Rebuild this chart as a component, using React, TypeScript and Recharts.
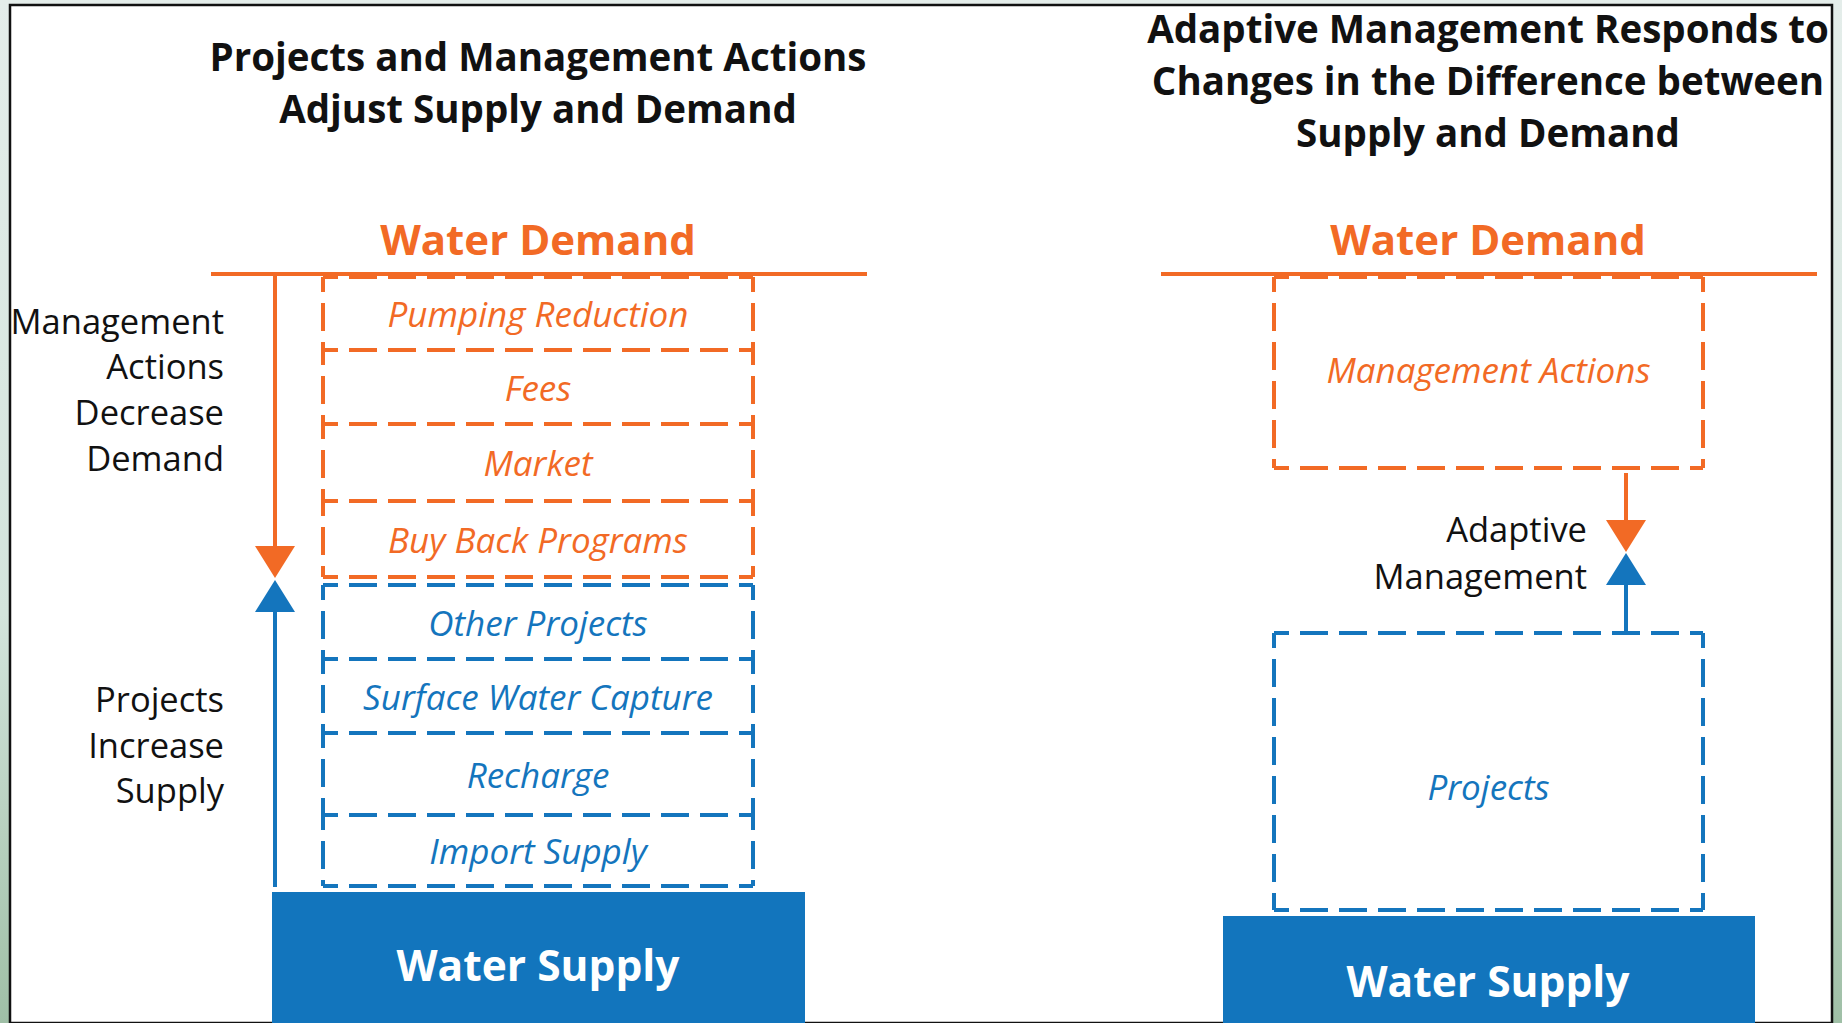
import { ComposedChart, XAxis, YAxis, ReferenceArea, ReferenceLine, Scatter } from "recharts";

const W = 1842;
const H = 1023;

const ORANGE = "#f26a25";
const BLUE = "#1475bd";
const INK = "#111111";
const FONT = "'Open Sans', sans-serif";

// titles
const LEFT_TITLE = ["Projects and Management Actions", "Adjust Supply and Demand"];
const LEFT_TITLE_Y = [56, 108];
const RIGHT_TITLE = ["Adaptive Management Responds to", "Changes in the Difference between", "Supply and Demand"];
const RIGHT_TITLE_Y = [28, 80, 132];
const PANEL_X = [538, 1488];

// demand / supply headings
const DEMAND_LINE_X = [[211, 867], [1161, 1817]];
const DEMAND_LINE_Y = 274;
const HEAD_Y = 238;
const SUPPLY_BLOCK_X = [[272, 805], [1223, 1755]];
const SUPPLY_BLOCK_TOP = [892, 916];
const SUPPLY_TEXT_Y = [964, 980];

// left stack
const DEMAND_ACTIONS = ["Pumping Reduction", "Fees", "Market", "Buy Back Programs"];
const DEMAND_BOUNDS = [277, 350, 424, 501, 577];
const SUPPLY_PROJECTS = ["Other Projects", "Surface Water Capture", "Recharge", "Import Supply"];
const SUPPLY_BOUNDS = [585, 659, 733, 815, 886];
const STACK_X = [323, 753];

// right boxes
const RIGHT_BOX_X = [1274, 1703];
const RIGHT_DEMAND = { label: "Management Actions", bounds: [277, 468], labelY: 369 };
const RIGHT_SUPPLY = { label: "Projects", bounds: [633, 910], labelY: 786 };

// side labels
const DECREASE_LABEL = ["Management", "Actions", "Decrease", "Demand"];
const DECREASE_Y = [320, 365, 411, 457];
const INCREASE_LABEL = ["Projects", "Increase", "Supply"];
const INCREASE_Y = [698, 744, 789];
const ADAPTIVE_LABEL = ["Adaptive", "Management"];
const ADAPTIVE_Y = [528, 575];
const SIDE_X = [224, 1587];

// arrows: [x, tail y, tip y]
const DOWN_ARROWS = [[275, 274, 578], [1626, 473, 552]];
const UP_ARROWS = [[275, 887, 580], [1626, 633, 553]];
const HEAD_LEN = 32;

const mid = (a: number, b: number) => (a + b) / 2;

const textShape =
  (anchor: string, size: number, weight: number | string, style: string, color: string) =>
  (props: any) =>
    (
      <text
        x={props.cx}
        y={props.cy}
        textAnchor={anchor}
        dominantBaseline="central"
        fontFamily={FONT}
        fontSize={size}
        fontWeight={weight}
        fontStyle={style}
        fill={color}
      >
        {props.payload.text}
      </text>
    );

const triangleShape = (color: string, dir: number) => (props: any) => {
  const { cx, cy } = props;
  const half = 20;
  const baseY = cy - dir * HEAD_LEN;
  return <polygon points={`${cx - half},${baseY} ${cx + half},${baseY} ${cx},${cy}`} fill={color} />;
};

// a dashed box drawn edge by edge so that stacked boxes share dash phase
const DashedBox = (x1: number, x2: number, y1: number, y2: number, color: string, key: string) => {
  const common = {
    stroke: color,
    strokeWidth: 4,
    strokeDasharray: "28 11",
    strokeDashoffset: 13,
    ifOverflow: "visible" as const,
  };
  return [
    <ReferenceLine key={`${key}t`} segment={[{ x: x1, y: y1 }, { x: x2, y: y1 }]} {...common} />,
    <ReferenceLine key={`${key}b`} segment={[{ x: x1, y: y2 }, { x: x2, y: y2 }]} {...common} />,
    <ReferenceLine key={`${key}l`} segment={[{ x: x1, y: y1 }, { x: x1, y: y2 }]} {...common} />,
    <ReferenceLine key={`${key}r`} segment={[{ x: x2, y: y1 }, { x: x2, y: y2 }]} {...common} />,
  ];
};

export default function App() {
  const titleData = [
    ...LEFT_TITLE.map((t, i) => ({ x: PANEL_X[0], y: LEFT_TITLE_Y[i], text: t })),
    ...RIGHT_TITLE.map((t, i) => ({ x: PANEL_X[1], y: RIGHT_TITLE_Y[i], text: t })),
  ];
  const headData = PANEL_X.map((x) => ({ x, y: HEAD_Y, text: "Water Demand" }));
  const supplyData = PANEL_X.map((x, i) => ({ x, y: SUPPLY_TEXT_Y[i], text: "Water Supply" }));
  const stackMidX = mid(STACK_X[0], STACK_X[1]);
  const boxMidX = mid(RIGHT_BOX_X[0], RIGHT_BOX_X[1]);
  const demandText = [
    ...DEMAND_ACTIONS.map((t, i) => ({ x: stackMidX, y: mid(DEMAND_BOUNDS[i], DEMAND_BOUNDS[i + 1]), text: t })),
    { x: boxMidX, y: RIGHT_DEMAND.labelY, text: RIGHT_DEMAND.label },
  ];
  const supplyText = [
    ...SUPPLY_PROJECTS.map((t, i) => ({ x: stackMidX, y: mid(SUPPLY_BOUNDS[i], SUPPLY_BOUNDS[i + 1]), text: t })),
    { x: boxMidX, y: RIGHT_SUPPLY.labelY, text: RIGHT_SUPPLY.label },
  ];
  const sideData = [
    ...DECREASE_LABEL.map((t, i) => ({ x: SIDE_X[0], y: DECREASE_Y[i], text: t })),
    ...INCREASE_LABEL.map((t, i) => ({ x: SIDE_X[0], y: INCREASE_Y[i], text: t })),
    ...ADAPTIVE_LABEL.map((t, i) => ({ x: SIDE_X[1], y: ADAPTIVE_Y[i], text: t })),
  ];
  const downTips = DOWN_ARROWS.map(([x, , tip]) => ({ x, y: tip }));
  const upTips = UP_ARROWS.map(([x, , tip]) => ({ x, y: tip }));

  return (
    <div
      style={{
        position: "absolute",
        left: 0,
        top: 0,
        width: W,
        height: H,
        overflow: "hidden",
        background: "linear-gradient(180deg, #e4edea 0%, #d3e4dc 60%, #9fbfa6 100%)",
      }}
    >
      <ComposedChart width={W} height={H} margin={{ top: 0, right: 0, bottom: 0, left: 0 }}>
        <XAxis type="number" dataKey="x" domain={[0, W]} hide allowDataOverflow />
        <YAxis type="number" dataKey="y" domain={[0, H]} reversed hide allowDataOverflow />

        <ReferenceArea x1={10} x2={1832} y1={5} y2={H} fill="#ffffff" fillOpacity={1} stroke={INK} strokeWidth={2.5} ifOverflow="visible" />

        {DEMAND_LINE_X.map(([a, b], i) => (
          <ReferenceLine key={`dl${i}`} segment={[{ x: a, y: DEMAND_LINE_Y }, { x: b, y: DEMAND_LINE_Y }]} stroke={ORANGE} strokeWidth={4} ifOverflow="visible" />
        ))}

        {DEMAND_ACTIONS.flatMap((_, i) =>
          DashedBox(STACK_X[0], STACK_X[1], DEMAND_BOUNDS[i], DEMAND_BOUNDS[i + 1], ORANGE, `da${i}`)
        )}
        {SUPPLY_PROJECTS.flatMap((_, i) =>
          DashedBox(STACK_X[0], STACK_X[1], SUPPLY_BOUNDS[i], SUPPLY_BOUNDS[i + 1], BLUE, `sp${i}`)
        )}
        {DashedBox(RIGHT_BOX_X[0], RIGHT_BOX_X[1], RIGHT_DEMAND.bounds[0], RIGHT_DEMAND.bounds[1], ORANGE, "rd")}
        {DashedBox(RIGHT_BOX_X[0], RIGHT_BOX_X[1], RIGHT_SUPPLY.bounds[0], RIGHT_SUPPLY.bounds[1], BLUE, "rs")}

        {SUPPLY_BLOCK_X.map(([a, b], i) => (
          <ReferenceArea key={`sb${i}`} x1={a} x2={b} y1={SUPPLY_BLOCK_TOP[i]} y2={H} fill="#1275bd" fillOpacity={1} stroke="none" ifOverflow="visible" />
        ))}

        {DOWN_ARROWS.map(([x, tail, tip], i) => (
          <ReferenceLine key={`da-l${i}`} segment={[{ x, y: tail }, { x, y: tip - HEAD_LEN + 2 }]} stroke={ORANGE} strokeWidth={4} ifOverflow="visible" />
        ))}
        {UP_ARROWS.map(([x, tail, tip], i) => (
          <ReferenceLine key={`ua-l${i}`} segment={[{ x, y: tail }, { x, y: tip + HEAD_LEN - 2 }]} stroke={BLUE} strokeWidth={4} ifOverflow="visible" />
        ))}
        <Scatter data={downTips} dataKey="y" shape={triangleShape(ORANGE, 1)} isAnimationActive={false} />
        <Scatter data={upTips} dataKey="y" shape={triangleShape(BLUE, -1)} isAnimationActive={false} />

        <Scatter data={titleData} dataKey="y" shape={textShape("middle", 38.5, 700, "normal", INK)} isAnimationActive={false} />
        <Scatter data={headData} dataKey="y" shape={textShape("middle", 42, 700, "normal", ORANGE)} isAnimationActive={false} />
        <Scatter data={supplyData} dataKey="y" shape={textShape("middle", 42.5, 700, "normal", "#ffffff")} isAnimationActive={false} />
        <Scatter data={demandText} dataKey="y" shape={textShape("middle", 35, 400, "italic", ORANGE)} isAnimationActive={false} />
        <Scatter data={supplyText} dataKey="y" shape={textShape("middle", 35, 400, "italic", BLUE)} isAnimationActive={false} />
        <Scatter data={sideData} dataKey="y" shape={textShape("end", 34.5, 400, "normal", INK)} isAnimationActive={false} />
      </ComposedChart>
    </div>
  );
}
